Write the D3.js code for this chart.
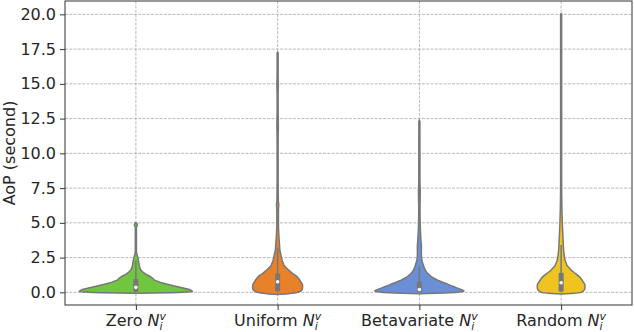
<!DOCTYPE html>
<html>
<head>
<meta charset="utf-8">
<script src="https://cdnjs.cloudflare.com/ajax/libs/d3/7.8.5/d3.min.js"></script>
<style>
  body { margin: 0; background: #fff; }
  svg { display: block; font-family: "DejaVu Sans", sans-serif; }
</style>
</head>
<body>
<svg width="634" height="332"></svg>
<script>
let width = 634;
let height = 332;
let margin = {top: 1, right: 2, bottom: 27, left: 65};

// categories
let categories = ["Zero", "Uniform", "Betavariate", "Random"];
let colors = ["#70c73f", "#e8812a", "#6a8fd6", "#efc421"];
let yTicks = [0, 2.5, 5, 7.5, 10, 12.5, 15, 17.5, 20];

// violin profiles: AoP value (s) and relative density (peak = 100)
let zeroVals = [-0.07, -0.03, 0.02, 0.06, 0.17, 0.4, 0.65, 0.88, 1.0, 1.12, 1.3, 1.6, 1.96, 2.2, 2.5, 2.8, 3.0, 4.7, 4.8, 4.95, 5.02];
let zeroDens = [0, 61, 88, 100, 96, 74, 49, 33, 30, 26, 18, 9, 6, 5, 3.5, 1.5, 1, 1, 2.5, 2, 0];

let uniformVals = [-0.15, -0.1, -0.03, 0.05, 0.17, 0.35, 0.52, 0.75, 1.0, 1.2, 1.37, 1.55, 1.73, 1.9, 2.09, 2.3, 2.56, 2.8, 3.04, 3.5, 4.0, 5.0, 6.0, 6.3, 6.6, 8, 11, 12, 13, 14.2, 15, 15.5, 17.2, 17.3];
let uniformDens = [0, 18, 32, 39, 43, 44, 44, 41, 37, 32, 26, 21, 16, 12, 10, 8, 6.5, 5.3, 4, 3.2, 2.3, 1.4, 1.5, 2, 1.2, 0.9, 0.9, 1.3, 0.9, 0.9, 1.3, 0.9, 0.9, 0];

let betaVals = [-0.1, -0.05, 0.0, 0.09, 0.2, 0.4, 0.65, 0.88, 1.05, 1.24, 1.4, 1.6, 1.96, 2.32, 2.8, 3.3, 3.6, 4.5, 6, 7.2, 8, 12.3, 12.4];
let betaDens = [0, 44, 67, 79, 74, 61, 46, 32, 24, 18, 14, 10.5, 7, 4.4, 3.5, 3.6, 3, 1.8, 1.1, 1.6, 1, 0.9, 0];

let randomVals = [-0.12, -0.07, 0.0, 0.1, 0.3, 0.52, 0.75, 1.0, 1.2, 1.37, 1.55, 1.73, 1.9, 2.09, 2.3, 2.56, 2.9, 3.28, 4.0, 5, 6, 8, 20.0, 20.05];
let randomDens = [0, 21, 35, 39, 42, 42, 39, 35, 30, 25, 19, 15, 11, 9, 7, 5.8, 4.7, 4, 3.2, 2.1, 1.4, 0.9, 0.9, 0];

// box statistics per category
let q1s = [0.05, 0.1, 0.02, 0.06];
let medians = [0.36, 0.76, 0.2, 0.69];
let q3s = [0.95, 1.35, 0.76, 1.4];
let whiskerLo = [0, 0, 0, 0];
let whiskerHi = [2.3, 3.2, 1.85, 3.4];

let profiles = [
    {vals: zeroVals, dens: zeroDens},
    {vals: uniformVals, dens: uniformDens},
    {vals: betaVals, dens: betaDens},
    {vals: randomVals, dens: randomDens}
];

let svg = d3.select('svg').attr('width', width).attr('height', height);

let xScale = d3.scalePoint().domain(categories)
    .range([margin.left, width - margin.right]).padding(0.5);
let yScale = d3.scaleLinear().domain([-0.91, 20.96])
    .range([height - margin.bottom, margin.top]);
let wScale = d3.scaleLinear().domain([0, 100]).range([0, 0.4 * xScale.step()]);

let gridColor = "#a8a8a8";
let outline = "#777777";

// grid
svg.append('g').selectAll('line').data(yTicks).join('line')
    .attr('x1', margin.left).attr('x2', width - margin.right)
    .attr('y1', d => yScale(d)).attr('y2', d => yScale(d))
    .attr('stroke', gridColor).attr('stroke-width', 0.8).attr('stroke-dasharray', '3,1.3');
svg.append('g').selectAll('line').data(categories).join('line')
    .attr('x1', d => xScale(d)).attr('x2', d => xScale(d))
    .attr('y1', margin.top).attr('y2', height - margin.bottom)
    .attr('stroke', gridColor).attr('stroke-width', 0.8).attr('stroke-dasharray', '3,1.3');

// violins
categories.forEach((c, i) => {
    let cx = xScale(c);
    let pts = profiles[i].vals.map((v, k) => ({v: v, d: profiles[i].dens[k]}));
    let area = d3.area()
        .y(d => yScale(d.v))
        .x0(d => cx - wScale(d.d))
        .x1(d => cx + wScale(d.d))
        .curve(d3.curveMonotoneY);
    svg.append('path').datum(pts)
        .attr('d', area)
        .attr('fill', colors[i])
        .attr('stroke', outline)
        .attr('stroke-width', 1.5)
        .attr('stroke-linejoin', 'round');

    // inner box
    svg.append('line')
        .attr('x1', cx).attr('x2', cx)
        .attr('y1', yScale(whiskerLo[i])).attr('y2', yScale(whiskerHi[i]))
        .attr('stroke', outline).attr('stroke-width', 1.5);
    svg.append('line')
        .attr('x1', cx).attr('x2', cx)
        .attr('y1', yScale(q1s[i])).attr('y2', yScale(q3s[i]))
        .attr('stroke', outline).attr('stroke-width', 5);
    svg.append('circle')
        .attr('cx', cx).attr('cy', yScale(medians[i])).attr('r', 1.8)
        .attr('fill', '#fff');
});

// axes
let yAxis = d3.axisLeft(yScale).tickValues(yTicks).tickFormat(d3.format('.1f')).tickSize(5).tickPadding(4);
let gy = svg.append('g')
    .attr('transform', 'translate(' + margin.left + ', 0)')
    .call(yAxis);
gy.select('.domain').remove();
gy.selectAll('line').attr('stroke', '#333');
gy.selectAll('text').attr('font-size', 16).attr('fill', '#262626')
    .attr('font-family', '"DejaVu Sans", sans-serif');

let xAxis = d3.axisBottom(xScale).tickSize(5).tickFormat('');
let gx = svg.append('g')
    .attr('transform', 'translate(0, ' + (height - margin.bottom) + ')')
    .call(xAxis);
gx.select('.domain').remove();
gx.selectAll('line').attr('stroke', '#333');

// x labels with N_i^v
categories.forEach(c => {
    let t = svg.append('text')
        .attr('x', xScale(c)).attr('y', height - 6)
        .attr('text-anchor', 'middle')
        .attr('font-size', 16).attr('fill', '#262626');
    t.append('tspan').text(c + ' ');
    t.append('tspan').attr('font-style', 'italic').text('N');
    let sub = t.append('tspan').attr('font-style', 'italic').attr('font-size', 11)
        .attr('dy', 3.5).text('i');
    let subW = sub.node().getComputedTextLength();
    t.append('tspan').attr('font-style', 'italic').attr('font-size', 11)
        .attr('dx', -subW).attr('dy', -10).text('v');
});

// y label
svg.append('text')
    .attr('transform', 'translate(15, ' + ((margin.top + height - margin.bottom) / 2) + ') rotate(-90)')
    .attr('text-anchor', 'middle')
    .attr('font-size', 16).attr('fill', '#262626')
    .text('AoP (second)');

// frame
svg.append('rect')
    .attr('x', margin.left).attr('y', margin.top)
    .attr('width', width - margin.left - margin.right)
    .attr('height', height - margin.top - margin.bottom)
    .attr('fill', 'none').attr('stroke', '#333').attr('stroke-width', 1);
</script>
</body>
</html>
